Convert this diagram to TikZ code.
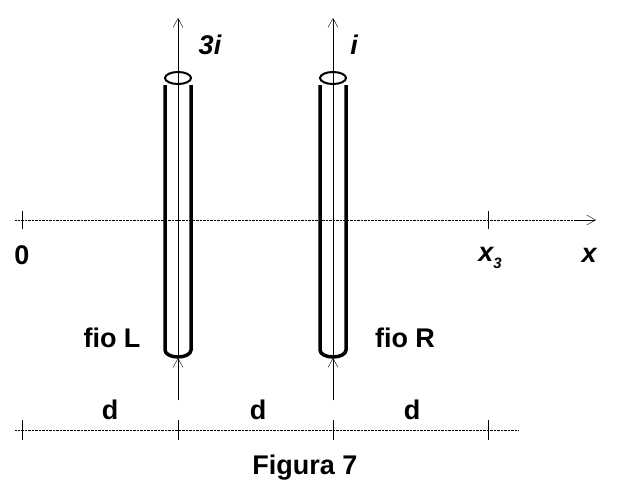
\documentclass[tikz,border=0pt]{standalone}
\usepackage{fontspec}
\setmainfont{Liberation Sans}
\usetikzlibrary{positioning,arrows.meta}
\tikzstyle{lbl}=[font=\bfseries\fontsize{27}{30}\selectfont]
\tikzstyle{axis}=[densely dotted,thin]
\tikzstyle{wall}=[line width=3.5pt]
\tikzstyle{tip}=[thin,-{Straight Barb[length=9pt,width=10pt]}]
\newcommand{\newWire}[2]{
  \draw[wall] (#1-13,85) -- (#1-13,350) arc[start angle=180,end angle=0,x radius=13,y radius=7] -- (#1+13,85);
  \draw[line width=2pt] (#1,78) ellipse[x radius=13,y radius=6];
  \draw[tip] (#1,78) -- (#1,18);
  \draw[thin] (#1,78) -- (#1,357);
  \draw[tip] (#1,400) -- (#1,358);
  \coordinate (#2) at (#1,18);
}
\begin{document}
\begin{tikzpicture}[x=1pt,y=-1pt]
  \useasboundingbox (0,0) rectangle (618,501);
  % x axis
  \draw[axis] (15,220) -- (585,220);
  \draw[tip] (575,220) -- (596,220);
  \foreach \t in {22,178,333,488} \draw[thin] (\t,211) -- (\t,229);
  \node[lbl] (zero) at (22,255) {0};
  \node[lbl] (x3) at (490,258) {\itshape x\raisebox{-0.5ex}{\fontsize{15}{16}\selectfont 3}};
  \node[lbl] (xl) at (589,255) {\itshape x};
  % wires
  \newWire{178}{topL}
  \newWire{333}{topR}
  \node[lbl] (curL) at (210,45) {\itshape 3i};
  \node[lbl] (curR) at (354,45) {\itshape i};
  \node[lbl] (fioL) at (112,338) {fio L};
  \node[lbl] (fioR) at (405,338) {fio R};
  % dimension line
  \draw[axis] (15,430) -- (518,430);
  \foreach \t in {22,178,333,488} \draw[thin] (\t,420) -- (\t,440);
  \node[lbl] (d1) at (110,410) {d};
  \node[lbl] (d2) at (258,410) {d};
  \node[lbl] (d3) at (412,410) {d};
  \node[lbl] (cap) at (305,468) {Figura 7};
\end{tikzpicture}
\end{document}
